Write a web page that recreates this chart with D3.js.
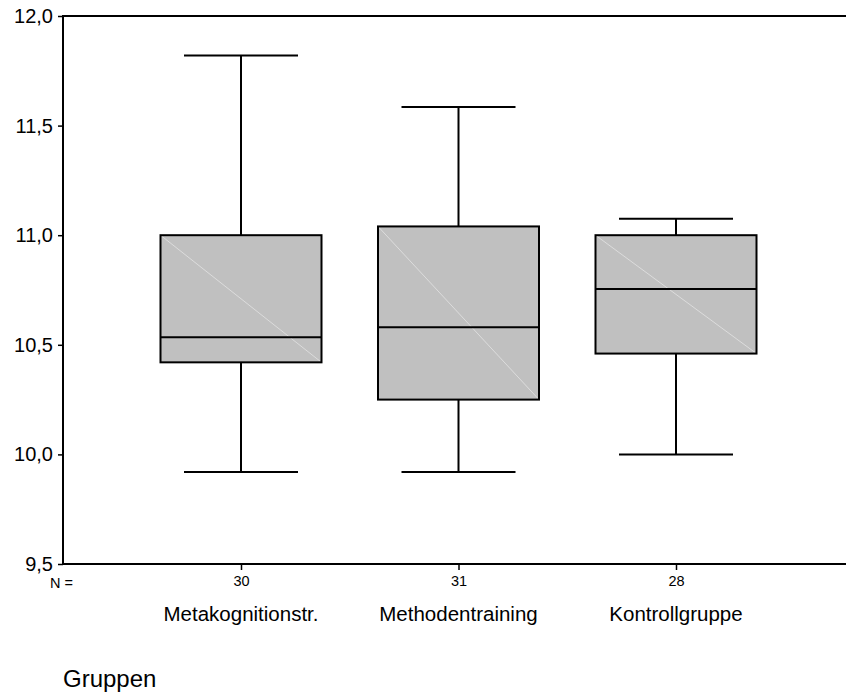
<!DOCTYPE html>
<html>
<head>
<meta charset="utf-8">
<script src="https://cdn.jsdelivr.net/npm/d3@7"></script>
<style>
  body { margin: 0; background: #fff; }
  svg { display: block; font-family: "Liberation Sans", Arial, sans-serif; }
</style>
</head>
<body>
<svg id="chart" width="846" height="692"></svg>
<script>
// data
var groups = ["Metakognitionstr.", "Methodentraining", "Kontrollgruppe"];
var counts = [30, 31, 28];
var whiskerLow = [9.92, 9.92, 10.0];
var q1 = [10.42, 10.25, 10.46];
var median = [10.535, 10.58, 10.755];
var q3 = [11.0, 11.04, 11.0];
var whiskerHigh = [11.82, 11.585, 11.075];
var yTicks = [9.5, 10.0, 10.5, 11.0, 11.5, 12.0];

var svg = d3.select("#chart");
var chartW = 846;
var plotLeft = 63, plotTop = 16, plotBottom = 564;

var y = d3.scaleLinear().domain([9.5, 12.0]).range([plotBottom, plotTop]);
var x = d3.scalePoint().domain(groups).range([67, 850]).padding(0.8);

var fmt = function(d) { return d3.format(".1f")(d).replace(".", ","); };

var boxW = 161, capW = 114;

var rows = groups.map(function(g, i) {
    return { name: g, n: counts[i], lo: whiskerLow[i], q1: q1[i], med: median[i], q3: q3[i], hi: whiskerHigh[i] };
});

// boxes
var box = svg.append("g").selectAll("g")
    .data(rows).enter()
    .append("g")
    .attr("transform", function(d) { return "translate(" + x(d.name) + ",0)"; });

// whiskers
box.append("line")
    .attr("x1", 0).attr("x2", 0)
    .attr("y1", function(d) { return y(d.hi); })
    .attr("y2", function(d) { return y(d.q3); })
    .attr("stroke", "#000").attr("stroke-width", 2);
box.append("line")
    .attr("x1", 0).attr("x2", 0)
    .attr("y1", function(d) { return y(d.q1); })
    .attr("y2", function(d) { return y(d.lo); })
    .attr("stroke", "#000").attr("stroke-width", 2);
box.append("line")
    .attr("x1", -capW / 2).attr("x2", capW / 2)
    .attr("y1", function(d) { return y(d.hi); })
    .attr("y2", function(d) { return y(d.hi); })
    .attr("stroke", "#000").attr("stroke-width", 2);
box.append("line")
    .attr("x1", -capW / 2).attr("x2", capW / 2)
    .attr("y1", function(d) { return y(d.lo); })
    .attr("y2", function(d) { return y(d.lo); })
    .attr("stroke", "#000").attr("stroke-width", 2);

box.append("rect")
    .attr("x", -boxW / 2)
    .attr("width", boxW)
    .attr("y", function(d) { return y(d.q3); })
    .attr("height", function(d) { return y(d.q1) - y(d.q3); })
    .attr("fill", "#c0c0c0");

// faint diagonal inside the box
box.append("line")
    .attr("x1", -boxW / 2).attr("x2", boxW / 2)
    .attr("y1", function(d) { return y(d.q3); })
    .attr("y2", function(d) { return y(d.q1); })
    .attr("stroke", "#dcdcdc").attr("stroke-width", 1);

box.append("rect")
    .attr("x", -boxW / 2)
    .attr("width", boxW)
    .attr("y", function(d) { return y(d.q3); })
    .attr("height", function(d) { return y(d.q1) - y(d.q3); })
    .attr("fill", "none")
    .attr("stroke", "#000").attr("stroke-width", 2);

box.append("line")
    .attr("x1", -boxW / 2).attr("x2", boxW / 2)
    .attr("y1", function(d) { return y(d.med); })
    .attr("y2", function(d) { return y(d.med); })
    .attr("stroke", "#000").attr("stroke-width", 2);

// frame: top and bottom lines run to the edge
svg.append("line")
    .attr("x1", plotLeft).attr("x2", chartW)
    .attr("y1", plotTop).attr("y2", plotTop)
    .attr("stroke", "#000").attr("stroke-width", 2);
svg.append("line")
    .attr("x1", plotLeft).attr("x2", chartW)
    .attr("y1", plotBottom).attr("y2", plotBottom)
    .attr("stroke", "#000").attr("stroke-width", 2);

// y axis
var yAxis = svg.append("g")
    .attr("transform", "translate(" + plotLeft + ",0)")
    .call(d3.axisLeft(y).tickValues(yTicks).tickFormat(fmt).tickSize(5).tickPadding(5));
yAxis.select(".domain").attr("stroke-width", 2).attr("d", "M0," + (plotTop - 1) + "V" + (plotBottom + 1));
yAxis.selectAll(".tick line").attr("stroke-width", 1.5);
yAxis.selectAll("text").attr("font-size", 20).attr("fill", "#000").attr("font-family", "Liberation Sans, Arial, sans-serif");

// x ticks and N labels
var xAxis = svg.append("g")
    .attr("transform", "translate(0," + plotBottom + ")")
    .call(d3.axisBottom(x).tickSize(6).tickFormat(function(d, i) { return counts[i]; }).tickPadding(6));
xAxis.select(".domain").remove();
xAxis.selectAll(".tick line").attr("stroke-width", 1.5);
xAxis.selectAll("text").attr("font-size", 14.5).attr("fill", "#000").attr("font-family", "Liberation Sans, Arial, sans-serif");

svg.append("text")
    .attr("x", 50).attr("y", 588)
    .attr("font-size", 14.5)
    .text("N =");

// group names
svg.append("g").selectAll("text")
    .data(groups).enter()
    .append("text")
    .attr("x", function(d) { return x(d); })
    .attr("y", 621)
    .attr("text-anchor", "middle")
    .attr("font-size", 20.5)
    .text(function(d) { return d; });

svg.append("text")
    .attr("x", 63).attr("y", 687)
    .attr("font-size", 24)
    .text("Gruppen");
</script>
</body>
</html>
